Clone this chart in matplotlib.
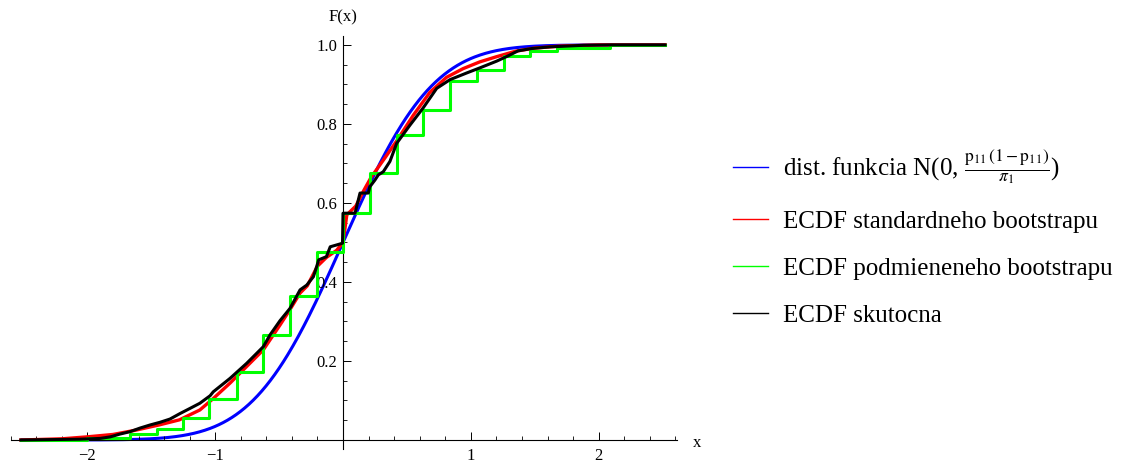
import math
import numpy as np
import matplotlib
import matplotlib.pyplot as plt
from matplotlib.lines import Line2D
from matplotlib.ticker import MultipleLocator

plt.rcParams['font.family'] = ['Liberation Serif', 'DejaVu Serif']
plt.rcParams['mathtext.fontset'] = 'stix'

# sigma of the theoretical normal distribution function
sigma = 0.55
x_min, x_max = -2.52, 2.52

# ECDF of the real sample (x, F)
black_x = [-2.52, -2.06, -1.90, -1.82, -1.745, -1.667, -1.59, -1.51, -1.43, -1.354,
           -1.275, -1.197, -1.12, -1.04, -1.015, -0.884, -0.754, -0.624, -0.571, -0.493,
           -0.415, -0.336, -0.284, -0.232, -0.206, -0.19, -0.13, -0.10, -0.004, 0.0,
           0.094, 0.133, 0.198, 0.21, 0.25, 0.276, 0.315, 0.367, 0.42, 0.524,
           0.626, 0.733, 0.837, 0.968, 1.072, 1.203, 1.29, 1.37, 1.48, 1.62,
           1.88, 2.10, 2.52]
black_F = [0.0, 0.002, 0.004, 0.008, 0.015, 0.021, 0.030, 0.038, 0.045, 0.053,
           0.067, 0.080, 0.093, 0.112, 0.122, 0.156, 0.194, 0.236, 0.266, 0.302,
           0.333, 0.380, 0.392, 0.413, 0.439, 0.456, 0.464, 0.489, 0.498, 0.574,
           0.574, 0.625, 0.625, 0.641, 0.658, 0.671, 0.679, 0.705, 0.751, 0.797,
           0.840, 0.890, 0.912, 0.929, 0.942, 0.959, 0.972, 0.985, 0.991, 0.995,
           0.999, 1.0, 1.0]

# ECDF of the standard bootstrap
red_x = [-2.52, -2.2, -2.0, -1.80, -1.62, -1.44, -1.28, -1.12, -1.015, -0.884,
         -0.754, -0.624, -0.493, -0.415, -0.336, -0.28, -0.2, -0.13, -0.05, 0.0,
         0.03, 0.1, 0.16, 0.22, 0.33, 0.42, 0.55, 0.68, 0.81, 0.94,
         1.07, 1.2, 1.35, 1.5, 1.7, 2.0, 2.52]
red_F = [0.0, 0.003, 0.008, 0.014, 0.025, 0.038, 0.051, 0.076, 0.105, 0.144,
         0.186, 0.228, 0.291, 0.330, 0.372, 0.390, 0.440, 0.462, 0.480, 0.500,
         0.570, 0.592, 0.630, 0.665, 0.715, 0.757, 0.822, 0.880, 0.918, 0.940,
         0.957, 0.970, 0.984, 0.992, 0.997, 1.0, 1.0]

# ECDF of the conditional bootstrap (jump points and level after the jump)
green_x = [-2.52, -2.0, -1.667, -1.456, -1.25, -1.045, -0.832, -0.624, -0.412, -0.206,
           0.0, 0.211, 0.423, 0.628, 0.837, 1.046, 1.26, 1.463, 1.672, 2.09, 2.52]
green_F = [0.0, 0.006, 0.014, 0.029, 0.056, 0.105, 0.173, 0.266, 0.365, 0.477,
           0.574, 0.677, 0.773, 0.836, 0.908, 0.937, 0.973, 0.985, 0.991, 1.0, 1.0]

labels = [r'dist. funkcia N(0, $\frac{\mathrm{p}_{11}\,(1-\mathrm{p}_{11})}{\pi_1}$)',
          'ECDF standardneho bootstrapu',
          'ECDF podmieneneho bootstrapu',
          'ECDF skutocna']
colors = ['#0000ff', '#ff0000', '#00ff00', '#000000']

fig = plt.figure(figsize=(11.23, 4.66), dpi=100)
ax = fig.add_axes([10.7 / 1123, 0.0363, 665.9 / 1123, 0.886])
ax.set_xlim(-2.6, 2.61)
ax.set_ylim(-0.023, 1.022)

# theoretical cdf
xs = np.linspace(x_min, x_max, 600)
cdf = np.array([0.5 * (1 + math.erf(v / (sigma * math.sqrt(2)))) for v in xs])
ax.plot(xs, cdf, color=colors[0], lw=2.2, zorder=1, solid_capstyle='butt')
ax.plot(red_x, red_F, color=colors[1], lw=2.4, zorder=2)
ax.plot(green_x, green_F, color=colors[2], lw=2.2, drawstyle='steps-post', zorder=3)
ax.plot(black_x, black_F, color=colors[3], lw=2.2, zorder=4)

# axes through the origin
for s in ['top', 'right']:
    ax.spines[s].set_visible(False)
ax.spines['left'].set_position(('data', 0))
ax.spines['bottom'].set_position(('data', 0))
for s in ['left', 'bottom']:
    ax.spines[s].set_linewidth(0.8)
ax.set_xticks([-2, -1, 1, 2])
ax.set_yticks([0.2, 0.4, 0.6, 0.8, 1.0])
ax.set_yticklabels(['0.2', '0.4', '0.6', '0.8', '1.0'])
ax.xaxis.set_minor_locator(MultipleLocator(0.2))
ax.yaxis.set_minor_locator(MultipleLocator(0.05))
ax.tick_params(which='major', direction='in', length=5.5, width=0.7, labelsize=12, pad=4)
ax.tick_params(which='minor', direction='in', length=3.2, width=0.6)
ax.tick_params(axis='x', which='major', pad=6)

ax.text(0, 1.07, 'F(x)', ha='center', va='center', fontsize=12, clip_on=False)
ax.text(2.736, -0.018, 'x', ha='left', va='baseline', fontsize=12, clip_on=False)

handles = [Line2D([], [], color=c, lw=1.0) for c in colors]
fig.legend(handles, labels, loc='upper left', bbox_to_anchor=(733 / 1123, 1 - 147 / 466),
           frameon=False, fontsize=18, handlelength=1.4, handletextpad=0.6,
           labelspacing=0.98, borderpad=0, borderaxespad=0)

fig.savefig('out.png', dpi=100)
